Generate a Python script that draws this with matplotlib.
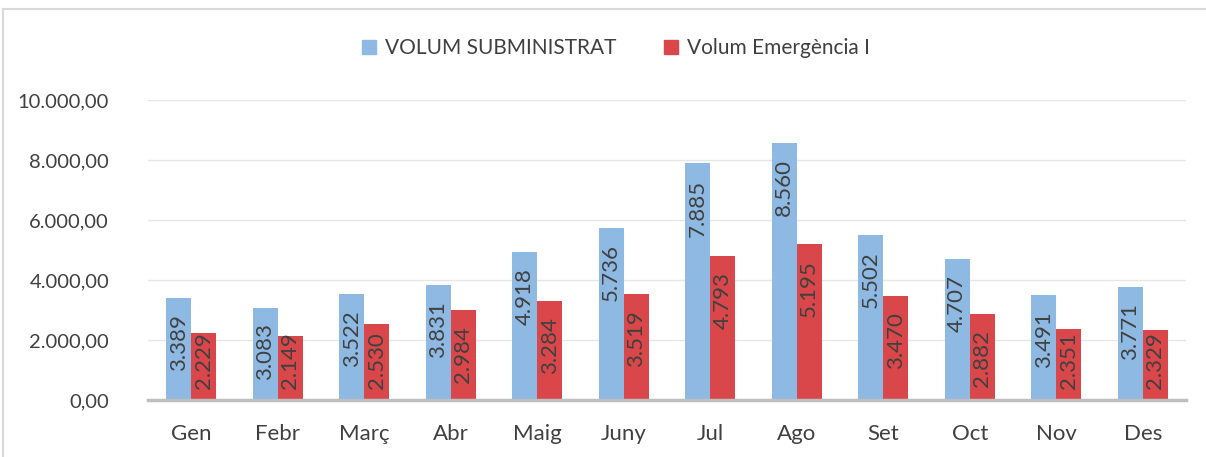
import numpy as np
import matplotlib.pyplot as plt
from matplotlib.lines import Line2D

months = ['Gen', 'Febr', 'Març', 'Abr', 'Maig', 'Juny', 'Jul', 'Ago', 'Set', 'Oct', 'Nov', 'Des']
subministrat = [3389, 3083, 3522, 3831, 4918, 5736, 7885, 8560, 5502, 4707, 3491, 3771]
emergencia = [2229, 2149, 2530, 2984, 3284, 3519, 4793, 5195, 3470, 2882, 2351, 2329]
yticks = [0, 2000, 4000, 6000, 8000, 10000]

blue = '#8DB9E3'
red = '#D9474A'

plt.rcParams['font.family'] = ['Lato', 'DejaVu Sans']

def fmt_es(v, dec=0):
    s = f'{v:,.{dec}f}'
    return s.replace(',', 'X').replace('.', ',').replace('X', '.')

fig = plt.figure(figsize=(12.06, 4.57), dpi=100)
ax = fig.add_axes([148/1206, 1 - 400/457, 1038/1206, 300/457])

x = np.arange(len(months))
w = 0.29
ax.bar(x - w/2, subministrat, w, color=blue, label='VOLUM SUBMINISTRAT', zorder=2)
ax.bar(x + w/2, emergencia, w, color=red, label='Volum Emergència I', zorder=2)

ax.set_xlim(-0.5, len(months) - 0.5)
ax.set_ylim(0, 10000)
ax.set_yticks(yticks)
ax.set_yticklabels([fmt_es(v, 2) for v in yticks], fontsize=14.5, color='#404040')
ax.set_xticks(x)
ax.set_xticklabels(months, fontsize=16, color='#404040')
ax.tick_params(axis='both', length=0)
ax.tick_params(axis='y', pad=28)
ax.tick_params(axis='x', pad=17)
ax.grid(axis='y', color='#E6E6E6', linewidth=1, zorder=0)
for s in ['top', 'right', 'left']:
    ax.spines[s].set_visible(False)
ax.spines['bottom'].set_color('#BFBFBF')
ax.spines['bottom'].set_linewidth(2.5)
ax.spines['bottom'].set_zorder(3)

# data labels, rotated, near the top inside each bar
units_per_px = 10000 / 300
for xs, vals in [(x - w/2, subministrat), (x + w/2, emergencia)]:
    for xi, v in zip(xs, vals):
        top = max(v - 16 * units_per_px, 68 * units_per_px)
        ax.text(xi, top, fmt_es(v), rotation=90, ha='center', va='top',
                fontsize=16, color='#404040', zorder=4)

handles = [Line2D([], [], marker='s', linestyle='none', markersize=10, color=blue),
           Line2D([], [], marker='s', linestyle='none', markersize=10, color=red)]
fig.legend(handles, ['VOLUM SUBMINISTRAT', 'Volum Emergència I'], loc='center',
           bbox_to_anchor=(0.505, 1 - 48/457), ncol=2, frameon=False, fontsize=15,
           handletextpad=-0.2, columnspacing=1.6, labelcolor='#404040')

# chart border
fig.add_artist(Line2D([3/1206, 1], [1 - 9/457, 1 - 9/457], color='#D9D9D9', lw=1.5, transform=fig.transFigure))
fig.add_artist(Line2D([3/1206, 3/1206], [0, 1 - 9/457], color='#D9D9D9', lw=1.5, transform=fig.transFigure))

fig.savefig('out.png', dpi=100)
